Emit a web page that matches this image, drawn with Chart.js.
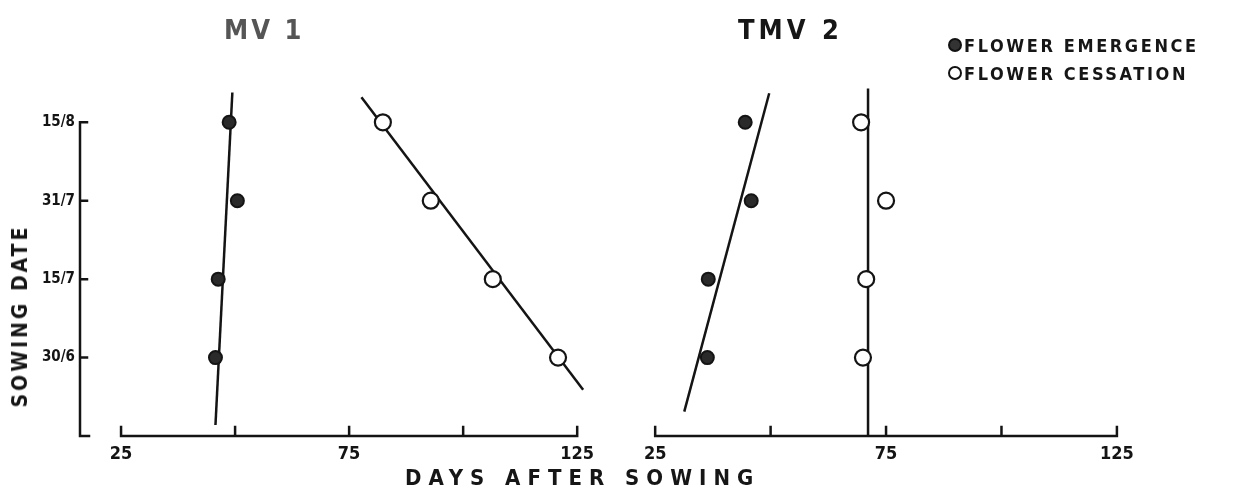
<!DOCTYPE html>
<html>
<head>
<meta charset="utf-8">
<script src="https://cdn.jsdelivr.net/npm/chart.js@4"></script>
<style>
  html,body{margin:0;padding:0;background:#fff;}
  #wrap{position:relative;width:1239px;height:497px;overflow:hidden;background:#fff;
        font-family:"DejaVu Sans Condensed","DejaVu Sans",sans-serif;color:#161616;}
  canvas{position:absolute;top:0;}
  .t{position:absolute;font-weight:bold;white-space:nowrap;}
  .panelTitle{font-size:27px;letter-spacing:4px;top:14px;}
  .leg{font-size:18px;letter-spacing:2.6px;left:948px;}
  .sym{display:inline-block;width:10px;height:10px;border-radius:50%;border:2px solid #111;margin-right:2px;vertical-align:0px;}
</style>
</head>
<body>
<div id="wrap">
  <canvas id="c1" width="600" height="497" style="left:0"></canvas>
  <canvas id="c2" width="639" height="497" style="left:600px"></canvas>
  <div class="t panelTitle" style="left:224px;color:#555;letter-spacing:3px;">MV 1</div>
  <div class="t panelTitle" style="left:738px;">TMV 2</div>
  <div class="t leg" style="top:35px;"><span class="sym" style="background:#333;"></span>FLOWER EMERGENCE</div>
  <div class="t leg" style="top:63px;"><span class="sym" style="background:#fff;"></span>FLOWER CESSATION</div>
  <div class="t" style="left:405px;top:465px;font-size:22px;letter-spacing:7px;">DAYS AFTER SOWING</div>
  <div class="t" style="left:20px;top:316px;font-size:21px;letter-spacing:3px;transform:translate(-50%,-50%) rotate(-90deg);">SOWING DATE</div>
</div>
<script>
// ---- data ----
const sowingDates = ['30/6', '15/7', '31/7', '15/8'];   // bottom to top
const datePositions = [1, 2, 3, 4];
const xTickValues = [25, 50, 75, 100, 125];
const xTickLabels = ['25', '', '75', '', '125'];

// MV 1
const mv1Emergence = [45.7, 46.3, 50.5, 48.7];
const mv1Cessation = [120.8, 106.5, 92.9, 82.4];
const mv1EmergenceLineX = [45.7, 49.4];
const mv1EmergenceLineY = [0.14, 4.38];
const mv1CessationLineX = [126.3, 77.7];
const mv1CessationLineY = [0.59, 4.32];

// TMV 2
const tmv2Emergence = [36.3, 36.5, 45.8, 44.5];
const tmv2Cessation = [70.0, 70.7, 75.0, 69.6];
const tmv2EmergenceLineX = [31.3, 49.7];
const tmv2EmergenceLineY = [0.31, 4.37];
const tmv2CessationLineX = [71.1, 71.1];
const tmv2CessationLineY = [0.0, 4.43];

const INK = '#141414';
const pts = (xs, ys) => xs.map((x, i) => ({x: x, y: ys[i]}));

const axesPlugin = {
  id: 'handAxes',
  afterDraw(chart, args, opts) {
    const ctx = chart.ctx, xs = chart.scales.x, ys = chart.scales.y;
    ctx.save();
    ctx.strokeStyle = INK; ctx.lineWidth = 2.5; ctx.lineCap = 'square';
    const y0 = ys.getPixelForValue(0);
    ctx.beginPath();
    ctx.moveTo(xs.getPixelForValue(xTickValues[0]), y0);
    ctx.lineTo(xs.getPixelForValue(xTickValues[xTickValues.length - 1]), y0);
    xTickValues.forEach(v => {
      const px = xs.getPixelForValue(v);
      ctx.moveTo(px, y0); ctx.lineTo(px, y0 - 9);
    });
    ctx.stroke();
    if (opts.yAxis) {
      const left = chart.chartArea.left;
      const yTop = ys.getPixelForValue(datePositions[datePositions.length - 1]);
      ctx.beginPath();
      ctx.moveTo(left + 9, y0); ctx.lineTo(left, y0); ctx.lineTo(left, yTop); ctx.lineTo(left + 7, yTop);
      datePositions.slice(0, -1).forEach(v => {
        const py = ys.getPixelForValue(v);
        ctx.moveTo(left, py); ctx.lineTo(left + 7, py);
      });
      ctx.stroke();
    }
    ctx.restore();
  }
};

function makeChart(id, emerg, cess, eLX, eLY, cLX, cLY, withY, xmin, pad) {
  return new Chart(document.getElementById(id), {
    type: 'scatter',
    data: {
      datasets: [
        {label: 'Flower emergence', data: pts(emerg, datePositions),
         pointStyle: 'circle', pointRadius: 6.5, backgroundColor: '#2a2a2a', borderColor: INK, borderWidth: 2},
        {label: 'Flower cessation', data: pts(cess, datePositions),
         pointStyle: 'circle', pointRadius: 8, backgroundColor: '#ffffff', borderColor: INK, borderWidth: 2.2},
        {label: 'emergence fit', data: pts(eLX, eLY), showLine: true, pointRadius: 0,
         borderColor: INK, borderWidth: 2.5, fill: false},
        {label: 'cessation fit', data: pts(cLX, cLY), showLine: true, pointRadius: 0,
         borderColor: INK, borderWidth: 2.5, fill: false}
      ]
    },
    options: {
      responsive: false, animation: false, devicePixelRatio: 1,
      layout: {padding: pad, autoPadding: false},
      plugins: {legend: {display: false}, tooltip: {enabled: false}, title: {display: false},
                handAxes: {yAxis: withY}},
      scales: {
        x: {type: 'linear', min: xmin, max: 130,
            grid: {display: false, drawTicks: false}, border: {display: false},
            afterBuildTicks: s => { s.ticks = xTickValues.map(v => ({value: v})); },
            afterFit: s => { s.height = 61; s.paddingLeft = 0; s.paddingRight = 0; },
            ticks: {autoSkip: false, maxRotation: 0, padding: 8, color: INK,
                    font: {family: 'DejaVu Sans Condensed', weight: 'bold', size: 18},
                    callback: (v) => { const i = xTickValues.indexOf(v); return i >= 0 ? xTickLabels[i] : ''; }}},
        y: {type: 'linear', min: 0, max: 4.45, display: withY,
            grid: {display: false, drawTicks: false}, border: {display: false},
            afterBuildTicks: s => { s.ticks = datePositions.map(v => ({value: v})); },
            afterFit: s => { s.width = withY ? 80 : 0; s.paddingTop = 0; s.paddingBottom = 0; },
            ticks: {padding: 5, color: INK,
                    font: {family: 'DejaVu Sans Condensed', weight: 'bold', size: 15},
                    callback: (v) => { const i = datePositions.indexOf(v); return i >= 0 ? sowingDates[i] : ''; }}}
      }
    },
    plugins: [axesPlugin]
  });
}

makeChart('c1', mv1Emergence, mv1Cessation, mv1EmergenceLineX, mv1EmergenceLineY,
          mv1CessationLineX, mv1CessationLineY, true, 16, {top: 87, left: 0, right: 0, bottom: 0});
makeChart('c2', tmv2Emergence, tmv2Cessation, tmv2EmergenceLineX, tmv2EmergenceLineY,
          tmv2CessationLineX, tmv2CessationLineY, false, 15, {top: 87, left: 9, right: 99, bottom: 0});
</script>
</body>
</html>
